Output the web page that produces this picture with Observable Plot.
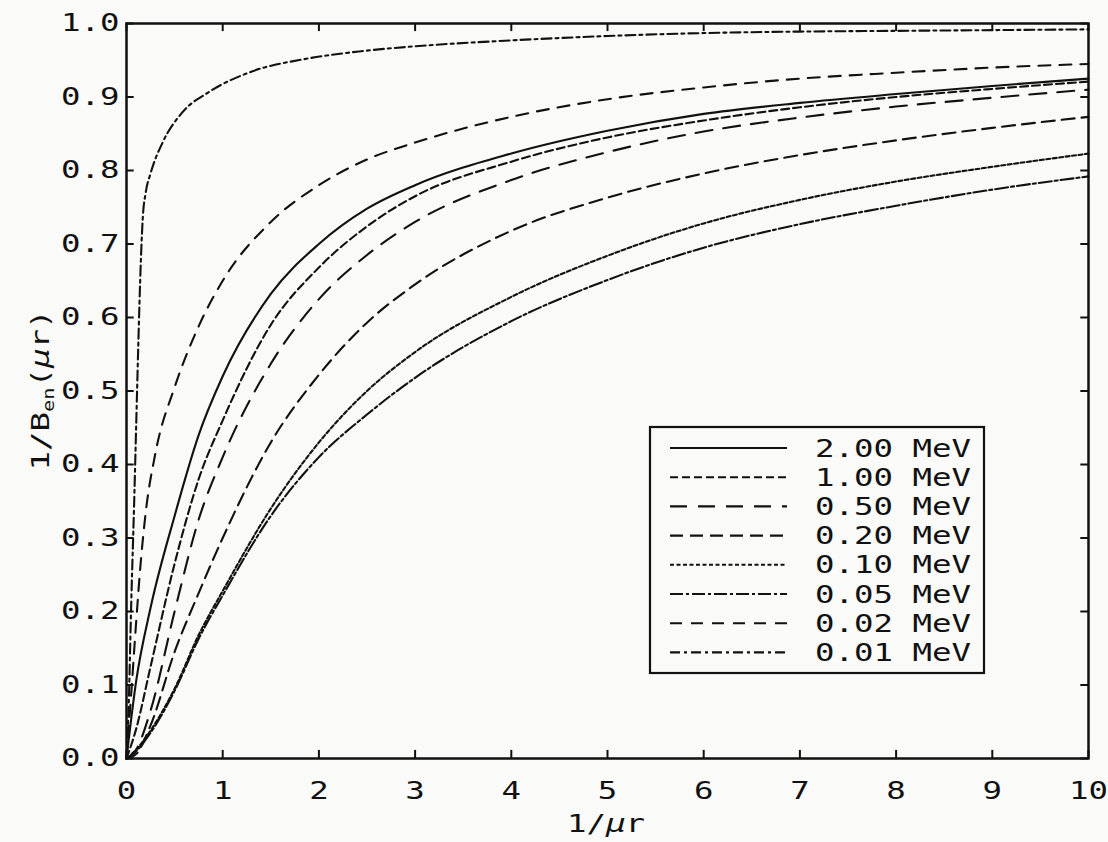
<!DOCTYPE html>
<html><head><meta charset="utf-8">
<script src="https://cdn.jsdelivr.net/npm/d3@7"></script>
<script src="https://cdn.jsdelivr.net/npm/@observablehq/plot@0.6"></script>
<style>
html,body{margin:0;padding:0;background:#fafaf8;}
#chart{position:relative;width:1108px;height:842px;}
</style></head><body><div id="chart"></div>
<script>
// ---- data ----
const energies = ["2.00", "1.00", "0.50", "0.20", "0.10", "0.05", "0.02", "0.01"];

const xGrid = [0, 0.1, 0.25, 0.5, 0.75, 1, 1.5, 2, 2.5, 3, 4, 5, 6, 7, 8, 9, 10];
const y200 = [0, 0.105, 0.205, 0.33, 0.44, 0.52, 0.632, 0.70, 0.748, 0.78, 0.823, 0.854, 0.877, 0.892, 0.904, 0.915, 0.925];
const y100 = [0, 0.04, 0.125, 0.265, 0.38, 0.46, 0.59, 0.668, 0.724, 0.765, 0.812, 0.845, 0.868, 0.886, 0.900, 0.911, 0.921];
const y050 = [0, 0.012, 0.065, 0.20, 0.325, 0.41, 0.537, 0.625, 0.685, 0.73, 0.787, 0.825, 0.853, 0.872, 0.887, 0.899, 0.910];
const y020 = [0, 0.006, 0.045, 0.145, 0.225, 0.30, 0.43, 0.522, 0.593, 0.645, 0.718, 0.763, 0.796, 0.821, 0.841, 0.858, 0.873];
const y010 = [0, 0.012, 0.038, 0.095, 0.168, 0.228, 0.34, 0.43, 0.50, 0.553, 0.628, 0.684, 0.728, 0.760, 0.785, 0.805, 0.823];
const y005 = [0, 0.010, 0.035, 0.092, 0.163, 0.222, 0.33, 0.41, 0.468, 0.518, 0.595, 0.651, 0.695, 0.727, 0.752, 0.774, 0.792];

const x002 = [0, 0.05, 0.1, 0.15, 0.2, 0.3, 0.5, 0.75, 1, 1.5, 2, 2.5, 3, 4, 5, 6, 7, 8, 9, 10];
const y002 = [0, 0.09, 0.185, 0.27, 0.335, 0.415, 0.505, 0.588, 0.65, 0.73, 0.78, 0.815, 0.838, 0.873, 0.897, 0.913, 0.925, 0.933, 0.940, 0.945];

const x001 = [0, 0.02, 0.05, 0.08, 0.1, 0.12, 0.135, 0.15, 0.17, 0.2, 0.25, 0.375, 0.58, 0.86, 1.31, 1.87, 2.42, 3, 4, 5, 6, 7, 8, 9, 10];
const y001 = [0, 0.06, 0.215, 0.35, 0.45, 0.55, 0.62, 0.68, 0.737, 0.77, 0.796, 0.838, 0.879, 0.907, 0.935, 0.952, 0.962, 0.969, 0.977, 0.983, 0.987, 0.989, 0.990, 0.991, 0.992];

const xTicks = [0, 1, 2, 3, 4, 5, 6, 7, 8, 9, 10];
const yTicks = [0, 0.1, 0.2, 0.3, 0.4, 0.5, 0.6, 0.7, 0.8, 0.9, 1.0];

// ---- styles ----
const xs = [xGrid, xGrid, xGrid, xGrid, xGrid, xGrid, x002, x001];
const ys = [y200, y100, y050, y020, y010, y005, y002, y001];
const dashStyles = ["none", "8,4", "17,11", "13,7", "4,2.5", "13,3,3,3", "12,9", "10,4,3,4"];
const INK = "#111";
const FONT = "'DejaVu Sans Mono', monospace";
const SX = 1.35;

const series = energies.map((e, i) => xs[i].map((x, j) => ({energy: e, x, y: ys[i][j]})));

const lineMarks = series.map((d, i) => Plot.line(d, {
  x: "x", y: "y", stroke: INK, strokeWidth: 2.1,
  strokeDasharray: dashStyles[i], curve: "monotone-x"
}));

const chart = Plot.plot({
  width: 1108, height: 842,
  marginLeft: 126, marginRight: 20, marginTop: 23, marginBottom: 84,
  style: {background: "transparent", fontFamily: FONT, fontSize: "24px", color: INK},
  x: {domain: [0, 10]},
  y: {domain: [0, 1]},
  marks: [
    Plot.axisX(xTicks, {tickSize: 0, tickPadding: 23, label: null, fontSize: 24, tickFormat: d => String(d)}),
    Plot.axisY(yTicks, {tickSize: 0, tickPadding: 7, label: null, fontSize: 24, tickFormat: d => d.toFixed(1)}),
    Plot.ruleX(xTicks, {x: d => d, y1: 0, y2: 0.011, stroke: INK, strokeWidth: 2}),
    Plot.ruleX(xTicks, {x: d => d, y1: 0.989, y2: 1, stroke: INK, strokeWidth: 2}),
    Plot.ruleY(yTicks, {y: d => d, x1: 0, x2: 0.08, stroke: INK, strokeWidth: 2}),
    Plot.ruleY(yTicks, {y: d => d, x1: 9.92, x2: 10, stroke: INK, strokeWidth: 2}),
    ...lineMarks,
    Plot.frame({stroke: INK, strokeWidth: 2.5})
  ]
});

document.getElementById("chart").appendChild(chart);
const svg = d3.select(chart);

// widen the tick-label glyphs horizontally (plotter-style lettering)
function stretch(t) {
  const xa = t.getAttribute("x");
  const x = xa !== null && isFinite(+xa) ? +xa : 0;
  if (xa !== null && isFinite(+xa)) t.setAttribute("x", 0);
  const tr = t.getAttribute("transform") || "";
  t.setAttribute("transform", `${tr} translate(${x},0) scale(${SX},1)`);
}
chart.querySelectorAll('g[aria-label="x-axis tick label"] text, g[aria-label="y-axis tick label"] text').forEach(stretch);

// axis titles
const xl = svg.append("text")
  .attr("transform", `translate(606,832) scale(${SX},1)`)
  .attr("text-anchor", "middle").attr("font-family", FONT).attr("font-size", 24).attr("fill", INK);
xl.append("tspan").text("1/");
xl.append("tspan").attr("font-style", "italic").text("μ");
xl.append("tspan").text("r");

const yl = svg.append("text")
  .attr("transform", `translate(49,390) rotate(-90) scale(${SX},1)`)
  .attr("text-anchor", "middle").attr("font-family", FONT).attr("font-size", 24).attr("fill", INK);
yl.append("tspan").text("1/B");
yl.append("tspan").attr("font-size", 15).attr("dy", 5).text("en");
yl.append("tspan").attr("dy", -5).text("(");
yl.append("tspan").attr("font-style", "italic").text("μ");
yl.append("tspan").text("r)");

// legend
const lg = svg.append("g").attr("aria-label", "legend");
lg.append("rect").attr("x", 650).attr("y", 427).attr("width", 334).attr("height", 246)
  .attr("fill", "#fafaf8").attr("stroke", INK).attr("stroke-width", 2.2);
energies.forEach((e, i) => {
  const cy = 448 + 29.2 * i;
  lg.append("line").attr("x1", 670).attr("x2", 787).attr("y1", cy).attr("y2", cy)
    .attr("stroke", INK).attr("stroke-width", 2.1).attr("stroke-dasharray", dashStyles[i]);
  lg.append("text").attr("transform", `translate(815,${cy + 8.5}) scale(${SX},1)`)
    .attr("text-anchor", "start")
    .attr("font-family", FONT).attr("font-size", 24).attr("fill", INK)
    .style("white-space", "pre")
    .text(`${e} MeV`);
});
</script></body></html>
